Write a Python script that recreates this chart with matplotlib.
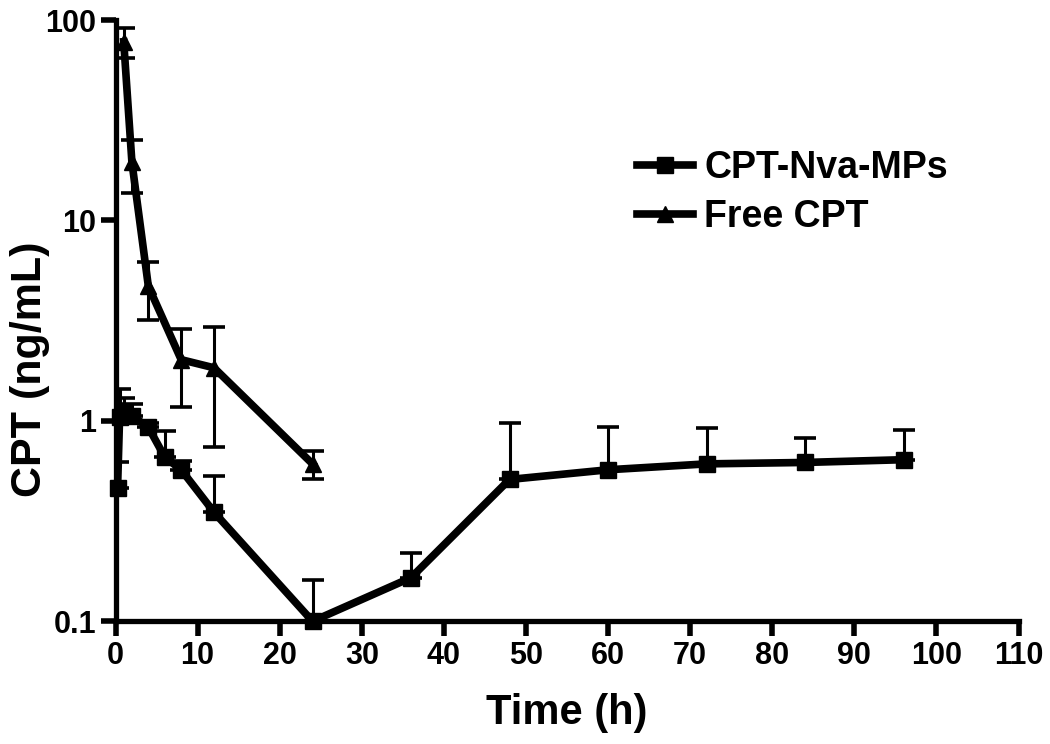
import numpy as np
import matplotlib
matplotlib.use("Agg")
import matplotlib.pyplot as plt

plt.rcParams['font.family'] = ['Liberation Sans', 'DejaVu Sans']
plt.rcParams['font.weight'] = 'bold'

# CPT-Nva-MPs (squares), upper SD only
t_mp = [0.25, 0.5, 1, 2, 4, 6, 8, 12, 24, 36, 48, 60, 72, 84, 96]
c_mp = [0.46, 1.05, 1.1, 1.06, 0.93, 0.66, 0.57, 0.35, 0.10, 0.165, 0.51, 0.57, 0.61, 0.62, 0.64]
sd_mp = [0.16, 0.40, 0.20, 0.15, 0.05, 0.23, 0.06, 0.18, 0.06, 0.055, 0.47, 0.36, 0.31, 0.20, 0.26]

# Free CPT (triangles)
t_free = [1, 2, 4, 8, 12, 24]
c_free = [78, 19.5, 4.7, 2.02, 1.84, 0.61]
sd_free = [13, 5.8, 1.5, 0.85, 1.1, 0.1]

fig = plt.figure(figsize=(10.5, 7.44), dpi=100)
ax = fig.add_axes([0.110, 0.165, 0.860, 0.808])

ax.errorbar(t_mp, c_mp, yerr=[np.zeros(len(sd_mp)), sd_mp], fmt='none',
            ecolor='black', elinewidth=2.2, capsize=8, capthick=2.6, zorder=2)
ax.errorbar(t_free, c_free, yerr=sd_free, fmt='none',
            ecolor='black', elinewidth=2.2, capsize=8, capthick=2.6, zorder=2)

ax.plot(t_mp, c_mp, color='black', lw=5.5, marker='s', ms=12,
        label='CPT-Nva-MPs', zorder=3, clip_on=False)
ax.plot(t_free, c_free, color='black', lw=5.5, marker='^', ms=12,
        label='Free CPT', zorder=3, clip_on=False)

ax.set_yscale('log')
ax.set_xlim(0, 110)
ax.set_ylim(0.1, 100)
ax.set_xticks(np.arange(0, 111, 10))
ax.set_yticks([0.1, 1, 10, 100])
ax.set_yticklabels(['0.1', '1', '10', '100'])
ax.yaxis.set_minor_locator(matplotlib.ticker.NullLocator())

for s in ['top', 'right']:
    ax.spines[s].set_visible(False)
for s in ['left', 'bottom']:
    ax.spines[s].set_linewidth(3.8)

ax.tick_params(axis='both', which='major', direction='out', length=11,
               width=4, labelsize=22, pad=3)
for lab in ax.get_xticklabels() + ax.get_yticklabels():
    lab.set_fontweight('bold')

ax.set_xlabel('Time (h)', fontsize=30, fontweight='bold', labelpad=16)
ax.set_ylabel('CPT (ng/mL)', fontsize=31, fontweight='bold')
ax.yaxis.set_label_coords(-0.072, 0.42)

ax.legend(loc='upper left', bbox_to_anchor=(0.54, 0.84), frameon=False,
          handlelength=1.5, handletextpad=0.3, labelspacing=0.35,
          prop={'weight': 'bold', 'size': 27})

fig.savefig('out.png', dpi=100)
